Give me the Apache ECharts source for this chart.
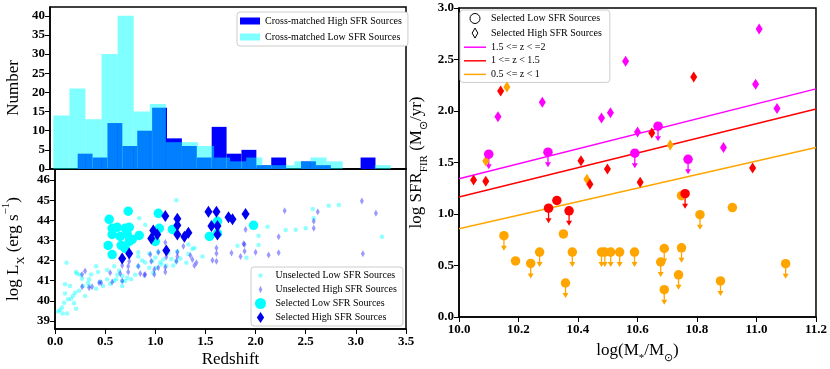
<!DOCTYPE html>
<html>
<head>
<meta charset="utf-8">
<script src="https://cdn.jsdelivr.net/npm/echarts@6/dist/echarts.min.js"></script>
<style>html,body{margin:0;padding:0;background:#fff}#main{width:830px;height:369px}</style>
</head>
<body>
<div id="main"></div>
<script>
// ---- histogram (top left) ----
var highBinStart = 0.272, highBinWidth = 0.1464;
var highCounts = [4, 3, 12, 6, 10, 16, 8, 6, 3, 11, 4, 5, 1, 3, 0, 2, 1, 0, 0, 3];
var lowBinStart = 0.033, lowBinWidth = 0.158;
var lowCounts = [14, 21, 13, 30, 40, 15, 17, 7, 7, 6, 3, 2, 3, 1, 1, 2, 3, 2, 0, 0, 1];

// ---- redshift vs log Lx (bottom left) ----
var unselLow = [[0.03,39.47],[0.075,39.37],[0.07,39.67],[0.12,39.37],[0.09,39.9],[0.10,40.36],[0.10,40.82],[0.15,40.74],[0.115,41.89],[0.13,40.08],[0.16,40.1],[0.19,39.88],[0.20,40.4],[0.21,39.6],[0.21,41.43],[0.25,41.3],[0.24,40.5],[0.28,40.74],[0.30,40.24],[0.34,41.07],[0.33,40.9],[0.36,41.31],[0.34,40.74],[0.41,41.72],[0.41,40.6],[0.43,41.43],[0.48,40.74],[0.52,41.53],[0.52,41.07],[0.59,41.72],[0.59,40.98],[0.62,41.3],[0.61,41.07],[0.67,40.74],[0.67,40.98],[0.67,41.23],[0.70,40.98],[0.76,41.07],[0.83,41.72],[0.83,42.41],[0.83,42.2],[0.84,44.1],[0.90,41.9],[0.90,43.78],[0.94,42.35],[0.94,41.64],[0.97,41.97],[0.98,41.4],[1.01,41.64],[1.03,42.43],[1.05,41.92],[1.08,42.05],[1.11,41.75],[1.13,42.38],[1.16,42.08],[1.18,41.75],[1.21,45.0],[1.21,41.97],[1.22,42.46],[1.31,41.89],[1.33,42.8],[1.33,42.33],[1.37,42.58],[1.39,42.63],[1.47,42.2],[1.59,43.94],[1.82,42.74],[1.91,42.14],[2.03,43.23],[2.03,42.77],[2.12,43.68],[2.30,43.52],[2.40,43.53],[2.50,43.6],[2.57,44.56],[2.58,44.1],[2.73,44.72],[2.83,44.76],[3.26,43.18],[0.05,39.55],[0.18,40.25],[0.22,41.35],[0.27,41.1],[0.45,40.95],[0.55,40.85],[0.64,41.5],[0.72,41.15],[0.80,41.3],[0.87,42.0],[1.00,42.15],[1.06,41.8],[1.25,42.1]];
var unselHigh = [[0.27,41.31],[0.30,41.48],[0.27,40.7],[0.34,40.65],[0.44,40.9],[0.55,41.4],[0.57,40.93],[0.65,41.36],[0.67,41.76],[0.67,40.98],[0.73,41.43],[0.73,41.72],[0.74,41.97],[0.83,41.72],[0.90,41.31],[0.95,42.3],[0.96,41.97],[0.99,41.56],[0.99,41.31],[1.03,42.41],[1.03,41.64],[1.10,41.43],[1.10,41.67],[1.11,42.18],[1.22,42.41],[1.22,42.2],[1.21,41.97],[1.28,42.71],[1.35,42.25],[1.37,42.05],[1.39,41.76],[1.41,41.89],[1.57,42.02],[1.61,42.63],[1.61,42.35],[1.61,41.97],[1.76,42.38],[1.85,42.2],[1.89,42.8],[1.89,42.46],[1.90,43.55],[1.88,42.84],[2.00,42.41],[2.13,42.28],[2.23,43.18],[2.23,42.39],[2.29,44.48],[2.58,43.96],[2.58,43.6],[2.62,44.43],[3.06,44.96],[3.07,42.34],[3.20,44.35],[0.85,41.36],[0.89,41.28],[1.10,42.9],[0.37,40.7],[0.46,40.9]];
var selLow = [[0.54,44.05],[0.73,44.45],[1.03,44.35],[0.57,43.6],[0.62,43.65],[0.70,43.6],[0.74,43.65],[0.84,43.25],[0.57,43.3],[0.65,43.2],[0.72,43.3],[0.53,42.75],[0.57,42.3],[0.66,42.75],[0.74,42.95],[0.70,42.6],[0.77,43.05],[1.04,43.6],[1.00,42.95],[1.17,43.55],[1.54,43.2],[1.62,43.95],[1.98,43.75],[1.62,43.35]];
var selHigh = [[0.67,42.1],[0.74,42.35],[0.96,43.1],[0.98,43.5],[1.02,43.3],[1.10,44.22],[1.11,42.5],[1.22,44.08],[1.22,43.75],[1.22,43.3],[1.29,43.18],[1.33,43.38],[1.53,44.42],[1.56,43.72],[1.61,44.42],[1.62,43.72],[1.62,43.3],[1.73,44.15],[1.77,44.05],[1.90,44.32]];

// ---- stellar mass vs SFR (right) ; [logM, logSFR, upperLimit] ----
var circZ05 = [[10.151,0.79,1],[10.19,0.544,0],[10.241,0.52,1],[10.271,0.63,1],[10.351,0.806,0],[10.358,0.33,1],[10.381,0.63,1],[10.479,0.63,1],[10.49,0.63,1],[10.51,0.63,1],[10.54,0.63,1],[10.59,0.63,1],[10.678,0.534,1],[10.69,0.665,1],[10.69,0.265,1],[10.738,0.41,1],[10.748,0.672,1],[10.748,1.178,0],[10.81,0.993,1],[10.879,0.35,1],[10.919,1.062,0],[11.098,0.518,1]];
var diamZ05 = [[10.161,2.234],[10.09,1.515],[10.71,1.671],[10.43,1.337]];
var circZ10 = [[10.301,1.056,1],[10.329,1.131,0],[10.37,1.031,1],[10.76,1.197,1]];
var diamZ10 = [[10.049,1.331],[10.09,1.318],[10.44,1.29],[10.609,1.309],[10.14,2.193],[10.789,2.331],[10.648,1.787],[10.41,1.518],[10.499,1.437],[10.987,1.446]];
var circZ15 = [[10.1,1.581,1],[10.299,1.6,1],[10.591,1.59,1],[10.669,1.853,1],[10.77,1.531,1]];
var diamZ15 = [[11.009,2.796],[10.997,2.259],[11.069,2.024],[10.56,2.484],[10.28,2.084],[10.131,1.943],[10.479,1.931],[10.509,1.984],[10.6,1.796],[10.889,1.646]];
var fitZ15 = [[10.0,1.343],[11.2,2.215]];
var fitZ10 = [[10.0,1.165],[11.2,2.02]];
var fitZ05 = [[10.0,0.856],[11.2,1.646]];

var SERIF = 'Liberation Serif';
var C05 = '#FFA500', C10 = '#FF0000', C15 = '#FF00FF';
var LINE_ICON = 'path://M0,0L24,0L24,1.6L0,1.6Z';

function bins(start, width, counts) {
    return counts.map(function (c, i) { return [start + i * width, start + (i + 1) * width, c]; });
}
function histSeries(name, data, color) {
    return {
        name: name, type: 'custom', xAxisIndex: 0, yAxisIndex: 0,
        itemStyle: {color: color},
        encode: {x: [0, 1], y: 2},
        data: data,
        renderItem: function (params, api) {
            var p0 = api.coord([api.value(0), api.value(2)]);
            var p1 = api.coord([api.value(1), 0]);
            return {type: 'rect', shape: {x: p0[0], y: p0[1], width: p1[0] - p0[0], height: p1[1] - p0[1]},
                style: {fill: color}};
        }
    };
}
function arrowSeries(data, color) {
    return {
        type: 'custom', xAxisIndex: 2, yAxisIndex: 2, z: 3,
        data: data.filter(function (d) { return d[2] === 1; }),
        renderItem: function (params, api) {
            var p = api.coord([api.value(0), api.value(1)]);
            return {type: 'group', children: [
                {type: 'line', shape: {x1: p[0], y1: p[1], x2: p[0], y2: p[1] + 12}, style: {stroke: color, lineWidth: 1.3}},
                {type: 'polygon', shape: {points: [[p[0] - 3, p[1] + 10], [p[0] + 3, p[1] + 10], [p[0], p[1] + 15]]}, style: {fill: color}}
            ]};
        }
    };
}
function ptSeries(data, color, symbol, size) {
    return {type: 'scatter', xAxisIndex: 2, yAxisIndex: 2, z: 4, symbol: symbol, symbolSize: size,
        itemStyle: {color: color, opacity: 1}, data: data.map(function (d) { return [d[0], d[1]]; })};
}
function fitSeries(name, data, color) {
    return {name: name, type: 'line', xAxisIndex: 2, yAxisIndex: 2, z: 2, symbol: 'none',
        lineStyle: {color: color, width: 1.5}, itemStyle: {color: color}, data: data};
}

var tickLabel = {fontFamily: SERIF, fontWeight: 'bold', fontSize: 13, color: '#000'};
var axisLine = {lineStyle: {color: '#000', width: 1.5}};
var nameStyle = {fontFamily: SERIF, fontSize: 17, color: '#000',
    rich: {sub: {fontFamily: SERIF, fontSize: 11, verticalAlign: 'bottom', lineHeight: 26},
           sup: {fontFamily: SERIF, fontSize: 11, verticalAlign: 'top', lineHeight: 26}}};
var legendText = {fontFamily: SERIF, fontSize: 10, color: '#000'};
var fmt1 = function (v) { return v.toFixed(1); };

var dom = document.getElementById('main');
var myChart = echarts.init(dom);
var option = {
    animation: false,
    backgroundColor: '#fff',
    grid: [
        {left: 50, top: 7, width: 356, height: 162, show: true, borderColor: '#000', borderWidth: 1.5},
        {left: 50, top: 169, width: 356, height: 160, show: true, borderColor: '#000', borderWidth: 1.5},
        {left: 459, top: 8, width: 358, height: 322, show: true, borderColor: '#000', borderWidth: 1.5}
    ],
    xAxis: [
        {gridIndex: 0, type: 'value', min: 0, max: 3.5, interval: 0.5, axisLabel: {show: false},
            axisTick: {show: false}, splitLine: {show: false}, axisLine: axisLine},
        {gridIndex: 1, type: 'value', min: 0, max: 3.5, interval: 0.5, splitLine: {show: false},
            axisLine: axisLine, axisTick: {lineStyle: {color: '#000'}},
            axisLabel: Object.assign({formatter: fmt1, margin: 6}, tickLabel),
            name: 'Redshift', nameLocation: 'middle', nameGap: 22, nameTextStyle: nameStyle},
        {gridIndex: 2, type: 'value', min: 10.0, max: 11.2, interval: 0.2, splitLine: {show: false},
            axisLine: axisLine, axisTick: {lineStyle: {color: '#000'}},
            axisLabel: Object.assign({formatter: fmt1, margin: 6}, tickLabel),
            name: 'log(M{sub|*}/M{sub|\u2299})', nameLocation: 'middle', nameGap: 21, nameTextStyle: nameStyle}
    ],
    yAxis: [
        {gridIndex: 0, type: 'value', min: 0, max: 42.3, interval: 5, splitLine: {show: false},
            axisLine: axisLine, axisTick: {lineStyle: {color: '#000'}},
            axisLabel: Object.assign({showMaxLabel: false, margin: 5}, tickLabel),
            name: 'Number', nameLocation: 'middle', nameGap: 28, nameTextStyle: nameStyle},
        {gridIndex: 1, type: 'value', min: 38.6, max: 46.55, splitNumber: 8, splitLine: {show: false},
            axisLine: axisLine, axisTick: {lineStyle: {color: '#000'}},
            axisLabel: Object.assign({showMaxLabel: false, showMinLabel: false, margin: 5,
                formatter: function (v) { return Math.abs(v - Math.round(v)) < 1e-6 ? String(Math.round(v)) : ''; }}, tickLabel),
            name: 'log L{sub|X} (erg s{sup|\u22121})', nameLocation: 'middle', nameGap: 28, nameTextStyle: nameStyle},
        {gridIndex: 2, type: 'value', min: 0, max: 3.0, interval: 0.5, splitLine: {show: false},
            axisLine: axisLine, axisTick: {lineStyle: {color: '#000'}},
            axisLabel: Object.assign({formatter: fmt1, margin: 5}, tickLabel),
            name: 'log SFR{sub|FIR} (M{sub|\u2299}/yr)', nameLocation: 'middle', nameGap: 29, nameTextStyle: nameStyle}
    ],
    legend: [
        {left: 237, top: 12, orient: 'vertical', itemWidth: 20, itemHeight: 7, itemGap: 6,
            padding: [4, 6, 4, 3], borderColor: '#ccc', borderWidth: 1, borderRadius: 3, backgroundColor: '#fff',
            textStyle: legendText, icon: 'rect',
            data: ['Cross-matched High SFR Sources', 'Cross-matched Low SFR Sources']},
        {left: 251, top: 267, orient: 'vertical', itemWidth: 20, itemHeight: 11, itemGap: 3,
            padding: [3, 6, 3, 4], borderColor: '#ccc', borderWidth: 1, borderRadius: 3, backgroundColor: '#fff',
            textStyle: legendText,
            data: [
                {name: 'Unselected Low SFR Sources', icon: 'path://M0,0M10,10M5,3A2,2,0,1,1,5,7A2,2,0,1,1,5,3Z'},
                {name: 'Unselected High SFR Sources', icon: 'path://M0,0M10,10M5,1.5L6.6,5L5,8.5L3.4,5Z'},
                {name: 'Selected Low SFR Sources', icon: 'circle'},
                {name: 'Selected High SFR Sources', icon: 'path://M4,0L8,6L4,12L0,6Z'}
            ]},
        {left: 460, top: 10, orient: 'vertical', itemWidth: 22, itemHeight: 10, itemGap: 3.6,
            padding: [3, 8, 3, 4], borderColor: '#ccc', borderWidth: 1, borderRadius: 3, backgroundColor: '#fff',
            textStyle: legendText,
            data: [
                {name: 'Selected Low SFR Sources', icon: 'circle', itemStyle: {color: '#fff', borderColor: '#000', borderWidth: 1}},
                {name: 'Selected High SFR Sources', icon: 'path://M5,0L9,7L5,14L1,7Z', itemStyle: {color: '#fff', borderColor: '#000', borderWidth: 1}},
                {name: '1.5 <= z < =2', icon: LINE_ICON, itemStyle: {color: C15}},
                {name: '1 <= z < 1.5', icon: LINE_ICON, itemStyle: {color: C10}},
                {name: '0.5 <= z < 1', icon: LINE_ICON, itemStyle: {color: C05}}
            ]}
    ],
    series: [
        histSeries('Cross-matched High SFR Sources', bins(highBinStart, highBinWidth, highCounts), '#0000FF'),
        histSeries('Cross-matched Low SFR Sources', bins(lowBinStart, lowBinWidth, lowCounts), 'rgba(0,255,255,0.5)'),
        {name: 'Unselected Low SFR Sources', type: 'scatter', xAxisIndex: 1, yAxisIndex: 1, symbol: 'circle', symbolSize: 4.5,
            itemStyle: {color: 'rgba(0,255,255,0.55)'}, data: unselLow},
        {name: 'Unselected High SFR Sources', type: 'scatter', xAxisIndex: 1, yAxisIndex: 1, symbol: 'diamond', symbolSize: [4, 7],
            itemStyle: {color: 'rgba(0,0,255,0.5)'}, data: unselHigh},
        {name: 'Selected Low SFR Sources', type: 'scatter', xAxisIndex: 1, yAxisIndex: 1, symbol: 'circle', symbolSize: 9.5,
            itemStyle: {color: '#00FFFF', opacity: 1}, data: selLow},
        {name: 'Selected High SFR Sources', type: 'scatter', xAxisIndex: 1, yAxisIndex: 1, symbol: 'diamond', symbolSize: [8, 12],
            itemStyle: {color: '#0000EE', opacity: 1}, data: selHigh},
        fitSeries('1.5 <= z < =2', fitZ15, C15),
        fitSeries('1 <= z < 1.5', fitZ10, C10),
        fitSeries('0.5 <= z < 1', fitZ05, C05),
        arrowSeries(circZ05, C05),
        arrowSeries(circZ10, C10),
        arrowSeries(circZ15, C15),
        ptSeries(circZ05, C05, 'circle', 9.5),
        ptSeries(diamZ05, C05, 'diamond', [7, 11]),
        ptSeries(circZ10, C10, 'circle', 9.5),
        ptSeries(diamZ10, C10, 'diamond', [7, 11]),
        ptSeries(circZ15, C15, 'circle', 9.5),
        ptSeries(diamZ15, C15, 'diamond', [7, 11])
    ]
};
myChart.setOption(option, true);

window.onresize = function () {
    myChart.resize();
};
</script>
</body>
</html>
